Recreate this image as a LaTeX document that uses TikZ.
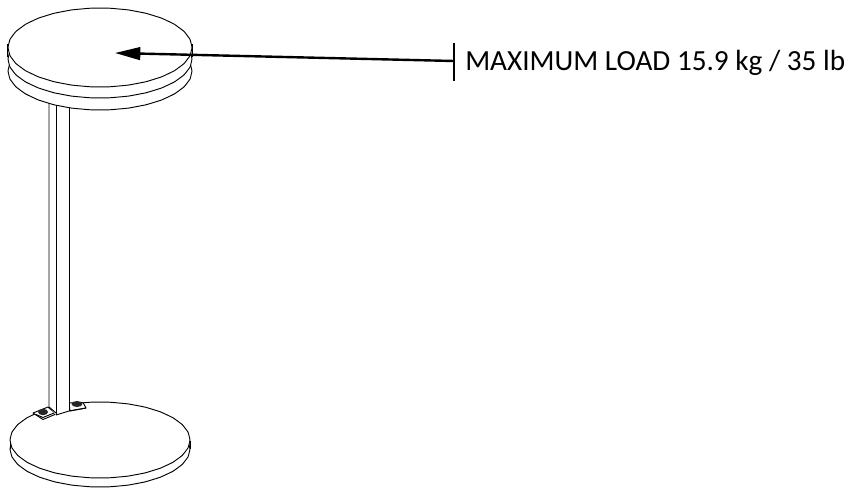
\documentclass[tikz,border=0pt]{standalone}
\usepackage{fontspec}
\setmainfont{Carlito}
\usetikzlibrary{arrows.meta}
\tikzset{
  px/.style={x=0.75pt,y=-0.75pt},
  part/.style={draw=black,line width=0.7pt,fill=white,line join=round},
  pipe/.style={draw=black,line width=0.7pt},
  leader/.style={draw=black,line width=1.8pt},
  callout/.style={anchor=base west,inner sep=0pt,font=\fontsize{21.9pt}{26pt}\selectfont}
}
% polygonal ellipse: cx cy rx ry
\newcommand{\polyell}[4]{plot[smooth cycle,tension=0.15,samples=30,domain=0:348] ({#1+#3*cos(\x)},{#2+#4*sin(\x)})}
\begin{document}
\begin{tikzpicture}[px]
\useasboundingbox (0,0) rectangle (848,489);
% base disc
\path[part] \polyell{100}{449}{90}{38};
\draw[pipe] (10,441) -- (10,449);
\draw[pipe] (190,441) -- (190,449);
\path[part] \polyell{100}{440}{90}{38};
% feet
\path[part] (33,413) -- (48,407) -- (56,414) -- (43,419.5) -- cycle;
\draw[pipe] (36,414.5) -- (43,417.5) -- (54,413);
\fill[black!85] (43,412) ellipse (5 and 3.2);
\path[part] (69,403) -- (83,402.5) -- (86,408) -- (70,411) -- cycle;
\fill[black!85] (77,404) ellipse (5.5 and 3);
% post
\fill[white] (49,100) -- (69,100) -- (69,410) -- (56,415) -- (49,407) -- cycle;
\draw[pipe] (49,100) -- (49,407) -- (56,413);
\draw[pipe] (56,100) -- (56,415);
\draw[pipe] (69,100) -- (69,411);
\draw[pipe] (56,415) -- (69,411) -- (86,408);
% top disc
\path[part] \polyell{100}{71}{92}{39};
\path[part] \polyell{100}{59}{92}{39};
\path[part] \polyell{100}{47.5}{92}{39.5};
\draw[pipe] (7.5,44) -- (7.5,57);
\draw[pipe] (192.5,44) -- (192.5,57);
% leader
\node[callout] (loadlabel) at (465,70.5) {MAXIMUM LOAD 15.9 kg / 35 lb};
\coordinate (tickT) at (454,43);
\coordinate (tickB) at (454,81);
\coordinate (tickM) at (454,61);
\coordinate (aim) at (115,53);
\draw[leader] (tickT) -- (tickB);
\draw[leader,-{Triangle[length=19pt,width=9.5pt]}] (tickM) -- (aim);
\end{tikzpicture}
\end{document}
